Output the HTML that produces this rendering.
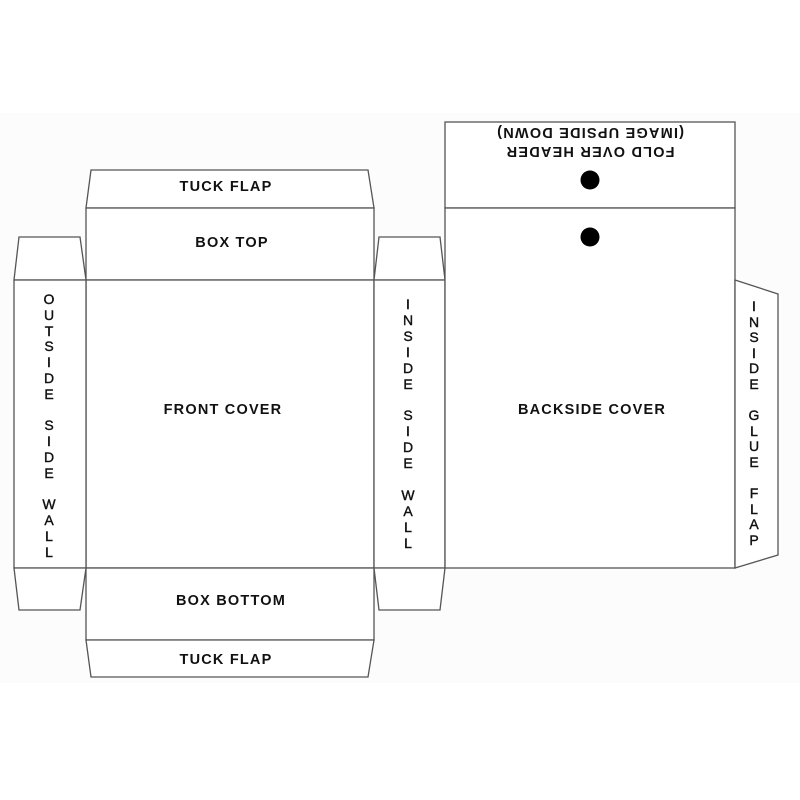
<!DOCTYPE html>
<html><head><meta charset="utf-8"><style>
html,body{margin:0;padding:0;background:#fff;width:800px;height:800px;overflow:hidden}
svg{display:block}
text{font-family:"Liberation Sans",Arial,sans-serif;fill:#111;}
</style></head><body>
<svg width="800" height="800" viewBox="0 0 800 800" xmlns="http://www.w3.org/2000/svg">
<rect x="0" y="113" width="800" height="570" fill="#fcfcfc"/>
<g fill="#fff" stroke="#555" stroke-width="1.3">
<polygon points="86,208 91,170 368,170 374,208"/>
<rect x="86" y="208" width="288" height="72"/>
<rect x="86" y="280" width="288" height="288"/>
<rect x="86" y="568" width="288" height="72"/>
<polygon points="86,640 374,640 368,677 91,677"/>
<polygon points="14,280 19,237 80,237 86,280"/>
<rect x="14" y="280" width="72" height="288"/>
<polygon points="14,568 86,568 80,610 19,610"/>
<polygon points="374,280 379,237 440,237 445,280"/>
<rect x="374" y="280" width="71" height="288"/>
<polygon points="374,568 445,568 440,610 379,610"/>
<rect x="445" y="122" width="290" height="86"/>
<rect x="445" y="208" width="290" height="360"/>
<polygon points="735,280 778,294 778,555 735,568"/>
</g>
<circle cx="590" cy="180" r="9.5" fill="#000"/>
<circle cx="590" cy="237" r="9.5" fill="#000"/>
<g font-size="14.5" text-anchor="middle" letter-spacing="1.2" font-weight="bold">
<text x="226" y="191">TUCK FLAP</text>
<text x="232" y="247">BOX TOP</text>
<text x="223" y="414">FRONT COVER</text>
<text x="231" y="605">BOX BOTTOM</text>
<text x="226" y="664">TUCK FLAP</text>
<text x="592" y="414">BACKSIDE COVER</text>
<text x="590" y="138" transform="rotate(180 590 133)">(IMAGE UPSIDE  DOWN)</text>
<text x="590" y="157" transform="rotate(180 590 152)">FOLD OVER HEADER</text>
</g>
<g font-size="14" text-anchor="middle" stroke="#111" stroke-width="0.4">
<text x="49" y="304">O</text><text x="49" y="320">U</text><text x="49" y="336">T</text><text x="49" y="351">S</text><text x="49" y="367">I</text><text x="49" y="383">D</text><text x="49" y="399">E</text>
<text x="49" y="430">S</text><text x="49" y="446">I</text><text x="49" y="462">D</text><text x="49" y="478">E</text>
<text x="49" y="509">W</text><text x="49" y="525">A</text><text x="49" y="541">L</text><text x="49" y="557">L</text>

<text x="408" y="309">I</text><text x="408" y="325">N</text><text x="408" y="341">S</text><text x="408" y="357">I</text><text x="408" y="373">D</text><text x="408" y="389">E</text>
<text x="408" y="420">S</text><text x="408" y="436">I</text><text x="408" y="452">D</text><text x="408" y="468">E</text>
<text x="408" y="500">W</text><text x="408" y="516">A</text><text x="408" y="532">L</text><text x="408" y="548">L</text>

<text x="754" y="311">I</text><text x="754" y="327">N</text><text x="754" y="342">S</text><text x="754" y="358">I</text><text x="754" y="373">D</text><text x="754" y="389">E</text>
<text x="754" y="420">G</text><text x="754" y="436">L</text><text x="754" y="451">U</text><text x="754" y="467">E</text>
<text x="754" y="498">F</text><text x="754" y="514">L</text><text x="754" y="529">A</text><text x="754" y="545">P</text>
</g>
</svg>
</body></html>
